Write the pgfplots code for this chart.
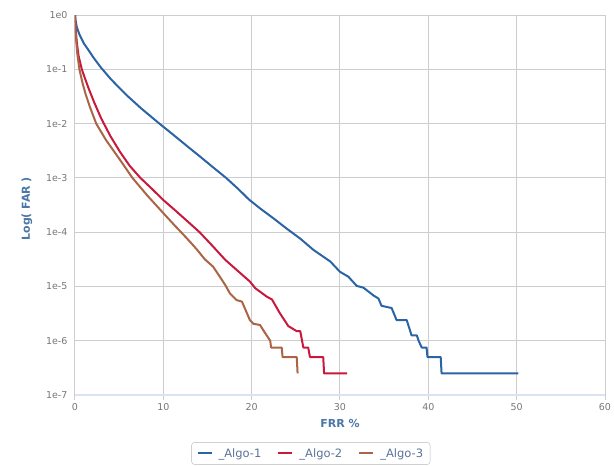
\documentclass[border=0pt]{standalone}
\usepackage{pgfplots}
\pgfplotsset{compat=1.18}
\usepackage{fontspec}
\setmainfont{DejaVu Sans}
\definecolor{cblue}{RGB}{42,100,164}
\definecolor{cred}{RGB}{200,25,60}
\definecolor{cbrown}{RGB}{170,100,70}
\definecolor{labblue}{RGB}{74,118,168}
\definecolor{ticgray}{RGB}{118,118,118}
\definecolor{gridgray}{RGB}{205,205,205}
\definecolor{axblue}{RGB}{218,228,240}
\definecolor{legtext}{RGB}{90,115,150}
\begin{document}
\begin{tikzpicture}
\useasboundingbox (-75pt,-71pt) rectangle (539pt,395pt);
\begin{axis}[
  scale only axis,
  width=530pt, height=380pt,
  xmin=0, xmax=60, ymin=1e-7, ymax=1,
  ymode=log,
  xtick={0,10,20,30,40,50,60},
  ytick={1,1e-1,1e-2,1e-3,1e-4,1e-5,1e-6,1e-7},
  yticklabels={1e0,1e-1,1e-2,1e-3,1e-4,1e-5,1e-6,1e-7},
  minor ytick={},
  /pgf/number format/assume math mode=true,
  axis x line=bottom, axis y line=left,
  x axis line style={draw=axblue, line width=1.8pt, -},
  y axis line style={draw=none},
  tick align=outside,
  xtick style={draw=gridgray, line width=1pt},
  major tick length=5pt,
  ytick style={draw=none},
  grid=major,
  major grid style={draw=gridgray, line width=1pt},
  tick label style={font=\fontsize{9.5}{11}\selectfont, text=ticgray},
  yticklabel style={xshift=1pt},
  xlabel={FRR \%}, ylabel={Log( FAR )},
  label style={font=\fontsize{11}{13}\selectfont\bfseries, text=labblue},
  xlabel style={at={(axis description cs:0.5,-0.074)}, anchor=center},
  ylabel style={at={(axis description cs:-0.091,0.49)}, anchor=center},
  legend columns=3,
  legend style={at={(axis description cs:0.445,-0.124)}, anchor=north,
    draw=gray!55, rounded corners=3pt, font=\fontsize{11.5}{13}\selectfont,
    text=legtext, /tikz/every even column/.append style={column sep=14pt},
    inner xsep=5pt, inner ysep=4pt},
  legend image code/.code={\draw[#1, line width=2pt] (0pt,0pt) -- (14pt,0pt); \path (18pt,0pt);},
  clip=true,
]
\addplot[cblue, line width=2pt, line join=round] table {
0 1
0.05 0.83
0.2 0.60
0.5 0.44
1.0 0.30
1.5 0.229
2.07 0.166
2.95 0.107
4 0.0676
5 0.0457
6 0.0316
7.5 0.019
9.55 0.01
11 0.00646
12.8 0.00372
14.1 0.00251
15.6 0.00158
17.1 0.001
18.5 0.00062
19.7 0.000398
21 0.00027
22.5 0.000178
24 0.000115
25.5 0.000076
27 0.000047
28.9 0.0000288
30.0 0.0000186
30.95 0.0000151
31.9 0.0000102
32.65 0.0000095
33.8 0.0000068
34.35 0.0000060
34.7 0.0000044
35.85 0.0000040
36.4 0.0000024
37.55 0.0000024
37.9 0.0000016
38.1 0.00000125
38.7 0.00000125
38.9 0.000001
39.25 0.00000075
39.8 0.00000075
39.9 0.0000005
41.4 0.0000005
41.5 0.00000025
50.2 0.00000025
};
\addlegendentry{\_Algo-1}
\addplot[cred, line width=2pt, line join=round] table {
0 1
0.03 0.75
0.1 0.5
0.2 0.32
0.4 0.178
0.77 0.1
1.13 0.068
1.6 0.042
2.2 0.024
2.95 0.0126
4 0.0059
5.1 0.003
6.2 0.00166
7.4 0.001
8.7 0.00063
10 0.00039
11.25 0.00026
12.7 0.00016
14.1 0.0001
15.6 0.000055
17 0.000031
17.9 0.000023
19.8 0.0000123
20.4 0.0000093
21.7 0.0000065
22.3 0.00000575
23.2 0.0000032
24.15 0.00000186
25.1 0.0000015
25.5 0.0000015
25.85 0.00000075
26.4 0.00000075
26.6 0.0000005
28.1 0.0000005
28.2 0.00000025
30.8 0.00000025
};
\addlegendentry{\_Algo-2}
\addplot[cbrown, line width=2pt, line join=round] table {
0 1
0.03 0.7
0.1 0.4
0.25 0.2
0.5 0.1
0.85 0.056
1.2 0.035
1.7 0.02
2.4 0.01
3.5 0.005
5.05 0.0022
6.5 0.001
8.2 0.00047
10 0.000224
11.3 0.000132
12.6 0.000079
13.7 0.00005
14.7 0.0000316
15.65 0.000023
17.0 0.0000107
17.55 0.0000074
18.3 0.0000056
18.9 0.00000525
19.8 0.0000024
20.2 0.00000205
20.95 0.00000195
21.5 0.0000014
22.1 0.000001
22.2 0.00000075
23.4 0.00000075
23.5 0.0000005
25.1 0.0000005
25.2 0.00000025
};
\addlegendentry{\_Algo-3}
\end{axis}
\end{tikzpicture}
\end{document}
